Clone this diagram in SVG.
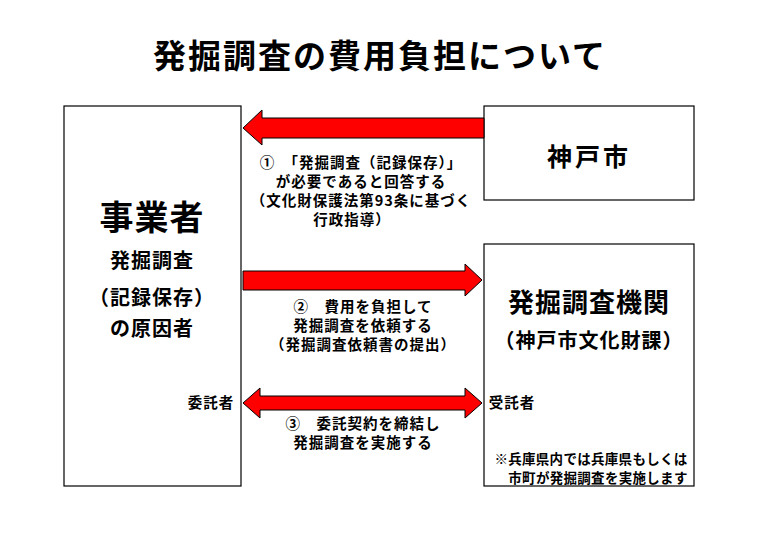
<svg xmlns="http://www.w3.org/2000/svg" width="760" height="538" viewBox="0 0 760 538">
<style>
text{font-family:"Noto Sans CJK JP","Noto Sans CJK SC",sans-serif;font-weight:bold;fill:#000;text-anchor:middle}
.box{fill:#fff;stroke:#000;stroke-width:1.2}
.arr{fill:#f00;stroke:#000;stroke-width:1}
.s{font-size:14.5px;letter-spacing:1px}
.n{font-size:13.5px;letter-spacing:0.3px}
.m{font-size:20px;letter-spacing:1px}
</style>
<rect width="760" height="538" fill="#fff"/>
<text x="380" y="68" style="font-size:33px;letter-spacing:2px">発掘調査の費用負担について</text>
<g id="jigyosha">
<rect class="box" x="64" y="106" width="177" height="380"/>
<text x="152" y="230" style="font-size:34px;letter-spacing:1px">事業者</text>
<text class="m" x="152" y="268">発掘調査</text>
<text class="m" x="152" y="305">（記録保存）</text>
<text class="m" x="152" y="336">の原因者</text>
<text class="s" x="211" y="408">委託者</text>
</g>
<g id="kobe">
<rect class="box" x="484" y="106" width="210" height="94"/>
<text x="589" y="166" style="font-size:25px;letter-spacing:3px">神戸市</text>
</g>
<g id="kikan">
<rect class="box" x="484" y="244" width="210" height="242"/>
<text x="589" y="312" style="font-size:26px;letter-spacing:1px">発掘調査機関</text>
<text x="589" y="348" style="font-size:20px;letter-spacing:1px">（神戸市文化財課）</text>
<text class="s" x="512" y="408">受託者</text>
<text class="n" x="591" y="464">※兵庫県内では兵庫県もしくは</text>
<text class="n" x="598" y="483">市町が発掘調査を実施します</text>
</g>
<g id="connectors">
<polygon class="arr" points="484,118 262,118 262,110 243,128 262,145 262,138 484,138"/>
<polygon class="arr" points="243,271 465,271 465,264 482,280 465,296 465,290 243,290"/>
<polygon class="arr" points="243,403 260,388 260,396 465,396 465,388 482,403 465,418 465,410 260,410 260,418"/>
</g>
<g>
<text class="s" x="361" y="168">①　「発掘調査（記録保存）」</text>
<text class="s" x="361" y="187">が必要であると回答する</text>
<text class="s" x="361" y="206">（文化財保護法第93条に基づく</text>
<text class="s" x="352" y="225">行政指導）</text>
<text class="s" x="363" y="312">②　費用を負担して</text>
<text class="s" x="363" y="331">発掘調査を依頼する</text>
<text class="s" x="363" y="350">（発掘調査依頼書の提出）</text>
<text class="s" x="363" y="429">③　委託契約を締結し</text>
<text class="s" x="363" y="448">発掘調査を実施する</text>
</g>
</svg>
